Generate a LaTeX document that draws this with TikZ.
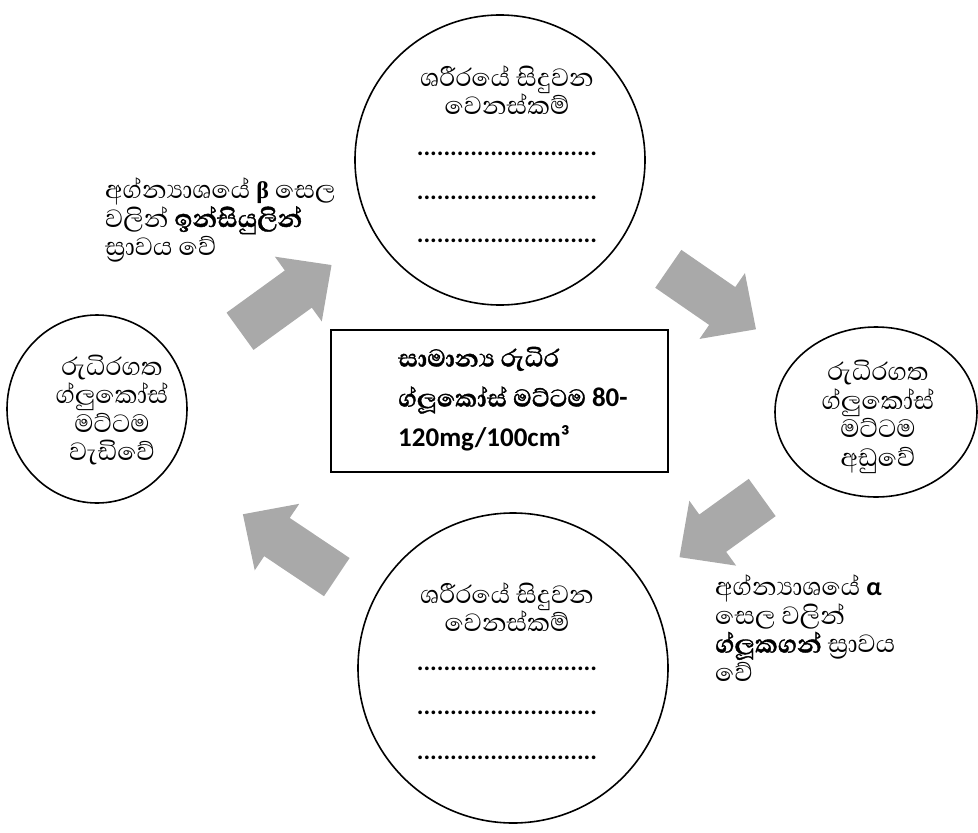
\documentclass[tikz,border=0pt]{standalone}
\usepackage{fontspec}
\usetikzlibrary{shapes.geometric}
\newfontfamily\sinhalafont[Script=Sinhala]{Abhaya Libre}
\newfontfamily\calibfont{Carlito}
\newfontfamily\lserfont{Liberation Serif}
\newcommand\heavy{\bfseries\addfontfeatures{FakeBold=1.2}}
\definecolor{arrowgray}{HTML}{A9A9A9}
\newcommand\blockarrow[4]{%
  \begin{scope}[shift={(#1,#2)},rotate=#3]
    \fill[arrowgray] (0,-23) -- ({#4-41},-23) -- ({#4-41},-40) -- (#4,0) --
      ({#4-41},40) -- ({#4-41},23) -- (0,23) -- cycle;
  \end{scope}}
\begin{document}
\begin{tikzpicture}[x=1pt,y=-1pt,
  circ/.style={draw, line width=1.6pt, circle, inner sep=0pt},
  ctext/.style={font=\sinhalafont\fontsize{32}{28.5}\selectfont, align=center, inner sep=0pt},
  ltext/.style={font=\sinhalafont\fontsize{32}{28.5}\selectfont, align=left, inner sep=0pt},
  dotline/.style={font=\calibfont\bfseries\fontsize{25}{30}\selectfont, inner sep=0pt, anchor=base}]
\useasboundingbox (0,0) rectangle (978,833);
% circles
\node[circ, minimum size=290pt] (topc) at (500,160) {};
\node[circ, minimum size=310pt] (botc) at (513,668) {};
\node[draw, line width=1.6pt, ellipse, inner sep=0pt, minimum width=180pt, minimum height=188pt] (leftc) at (97,409) {};
\node[draw, line width=1.6pt, ellipse, inner sep=0pt, minimum width=202pt, minimum height=170pt] (rightc) at (876,412) {};
% centre box
\node[draw, line width=1.2pt, minimum width=337pt, minimum height=142pt, inner sep=0pt] (box) at (499.5,401) {};
\node[font=\sinhalafont\heavy\fontsize{31}{40}\selectfont, align=left, inner sep=0pt, anchor=west] (boxt) at (398,399)
  {සාමාන්‍ය රුධිර\\ග්ලූකෝස් මට්ටම {\calibfont\bfseries\fontsize{27}{40}\selectfont 80-}\\{\calibfont\bfseries\fontsize{27}{40}\selectfont 120mg/100cm³}};
% top circle text
\node[ctext] (toph) at (507,90) {ශරීරයේ සිදුවන\\වෙනස්කම්};
\node[dotline] (td1) at (507,155) {...........................};
\node[dotline] (td2) at (507,199) {...........................};
\node[dotline] (td3) at (507,242) {...........................};
% bottom circle text
\node[ctext] (both) at (507,607) {ශරීරයේ සිදුවන\\වෙනස්කම්};
\node[dotline] (bd1) at (507,670) {...........................};
\node[dotline] (bd2) at (507,714) {...........................};
\node[dotline] (bd3) at (507,759) {...........................};
% side circles text
\node[ctext] (leftt) at (112,410) {රුධිරගත\\ග්ලුකෝස්\\මට්ටම\\වැඩිවේ};
\node[ctext] (rightt) at (878,417) {රුධිරගත\\ග්ලුකෝස්\\මට්ටම\\අඩුවේ};
% labels
\node[ltext, anchor=west] (lab1) at (105,220)
  {අග්න්‍යාශයේ {\lserfont\bfseries\fontsize{24}{28}\selectfont β} සෙල\\වලින් {\heavy ඉන්සියුලින්}\\ස්‍රාවය වේ};
\node[ltext, anchor=west] (lab2) at (715,628)
  {අග්න්‍යාශයේ {\calibfont\bfseries\fontsize{26}{28}\selectfont α}\\සෙල වලින්\\{\heavy ග්ලූකගන්} ස්‍රාවය\\වේ};
% block arrows
\blockarrow{240}{331.3}{35.9}{113}
\blockarrow{668.3}{268.8}{-34.6}{106.5}
\blockarrow{762.2}{497.5}{-144.2}{102}
\blockarrow{336.8}{577.1}{146.2}{113}
\end{tikzpicture}
\end{document}
